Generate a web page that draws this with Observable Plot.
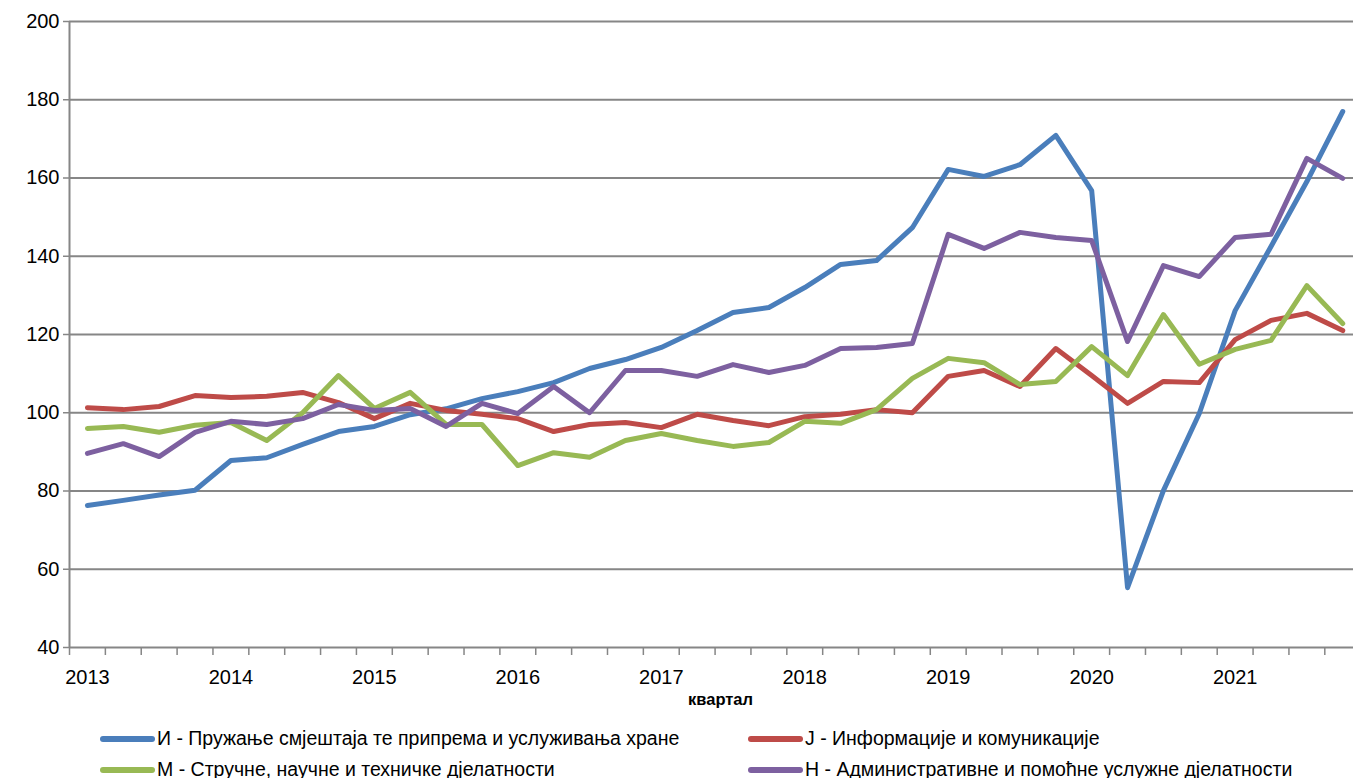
<!DOCTYPE html>
<html>
<head>
<meta charset="utf-8">
<script src="https://cdn.jsdelivr.net/npm/d3@7"></script>
<script src="https://cdn.jsdelivr.net/npm/@observablehq/plot@0.6"></script>
<style>
  html, body { margin: 0; padding: 0; background: #fff; }
  body { width: 1353px; height: 778px; overflow: hidden; font-family: "Liberation Sans", Arial, sans-serif; }
  #legend { position: relative; height: 63px; }
  .item { position: absolute; display: flex; align-items: center; font-size: 19.5px; color: #000; white-space: nowrap; }
  .sw { width: 55px; height: 6px; border-radius: 3px; margin-right: 2px; }
</style>
</head>
<body>
<div id="chart"></div>
<div id="legend"></div>
<script>
const years = ["2013","2014","2015","2016","2017","2018","2019","2020","2021"];
const seriesNames = [
  "И - Пружање смјештаја те припрема и услуживања хране",
  "Ј - Информације и комуникације",
  "M - Стручне, научне и техничке дјелатности",
  "Н - Административне и помоћне услужне дјелатности"
];
const colors = ["#4A7EBB", "#BE4B48", "#98B954", "#7D60A0"];

const seriesI = [76.3,77.6,79.0,80.2, 87.8,88.5,91.9,95.2, 96.5,99.5,101.0,103.6, 105.4,107.7,111.3,113.6,
  116.7,121.0,125.6,126.9, 132.0,137.9,138.9,147.3, 162.2,160.4,163.4,170.9, 156.8,55.3,80.1,99.8,
  126.1,142.5,159.1,177.0];
const seriesJ = [101.3,100.8,101.6,104.4, 103.9,104.2,105.2,102.6, 98.5,102.4,100.6,99.6, 98.5,95.2,97.0,97.5,
  96.2,99.6,98.0,96.7, 99.0,99.6,100.8,100.0, 109.3,110.8,106.7,116.4, 109.5,102.4,108.0,107.7,
  118.7,123.6,125.4,121.0];
const seriesM = [96.0,96.5,95.0,96.8, 97.5,92.9,100.0,109.5, 101.1,105.2,97.0,97.0, 86.5,89.8,88.6,92.9,
  94.7,92.9,91.4,92.4, 97.8,97.3,100.8,108.8, 113.9,112.8,107.2,108.0, 116.9,109.5,125.1,112.4,
  116.2,118.5,132.5,122.8];
const seriesN = [89.6,92.1,88.8,95.0, 97.8,97.0,98.5,102.1, 100.6,101.1,96.5,102.4, 99.8,106.7,100.0,110.8,
  110.8,109.3,112.3,110.3, 112.1,116.4,116.7,117.7, 145.6,142.0,146.1,144.8, 144.0,118.2,137.6,134.8,
  144.8,145.6,165.0,159.9];
const yTicks = [40,60,80,100,120,140,160,180,200];

const allSeries = [seriesI, seriesJ, seriesM, seriesN];
const data = allSeries.flatMap((s, k) => s.map((v, i) => ({q: i, v, series: seriesNames[k]})));

const boundaries = d3.range(37).map(i => i - 0.5);
const yearIdx = years.map((_, k) => k * 4);
const grid = "#868686";

const chart = Plot.plot({
  width: 1353,
  height: 715,
  marginLeft: 69,
  marginRight: 0,
  marginTop: 21,
  marginBottom: 68,
  style: {fontFamily: "Liberation Sans, Arial, sans-serif", color: "#000", background: "#fff"},
  x: {type: "linear", domain: [-0.5, 35.3], axis: null},
  y: {domain: [40, 200], axis: null},
  color: {domain: seriesNames, range: colors},
  marks: [
    Plot.gridY(yTicks, {stroke: grid, strokeOpacity: 1, strokeWidth: 2}),
    Plot.ruleX([-0.5], {stroke: grid, strokeWidth: 2}),
    Plot.axisY(yTicks, {tickSize: 6, tickPadding: 4, fontSize: 20, stroke: grid, strokeWidth: 1.5, label: null}),
    Plot.axisX(boundaries, {tickSize: 8, tickFormat: () => "", stroke: grid, strokeWidth: 1.5, label: null}),
    Plot.axisX(yearIdx, {tickSize: 0, tickPadding: 22, fontSize: 20, tickFormat: i => years[i / 4],
      label: "квартал", labelAnchor: "center", labelOffset: 57, labelArrow: "none"}),
    Plot.line(data, {x: "q", y: "v", z: "series", stroke: "series", strokeWidth: 5,
      strokeLinejoin: "round", strokeLinecap: "round"})
  ]
});
document.getElementById("chart").appendChild(chart);
chart.querySelectorAll("text").forEach(t => {
  if (t.textContent === "квартал") {
    t.setAttribute("font-weight", "bold");
    t.setAttribute("font-size", "16.5");
    t.setAttribute("dx", "9");
  }
});

const legend = document.getElementById("legend");
const pos = [[100, 24], [748, 24], [100, 55], [748, 55]];
seriesNames.forEach((name, k) => {
  const it = document.createElement("div");
  it.className = "item";
  it.style.left = pos[k][0] + "px";
  it.style.top = (pos[k][1] - 12) + "px";
  const sw = document.createElement("div");
  sw.className = "sw";
  sw.style.background = colors[k];
  const tx = document.createElement("span");
  tx.textContent = name;
  it.appendChild(sw);
  it.appendChild(tx);
  legend.appendChild(it);
});
</script>
</body>
</html>
